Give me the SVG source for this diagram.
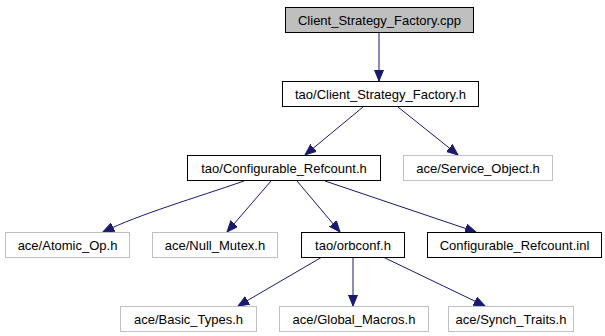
<svg xmlns="http://www.w3.org/2000/svg" width="605" height="336" viewBox="0 0 605 336">
<style>
.n rect{fill:#fff;stroke:#000;stroke-width:1}
.g rect{fill:#fff;stroke:#bfbfbf;stroke-width:1}
.r rect{fill:#bfbfbf;stroke:#000;stroke-width:1}
text{font-family:"Liberation Sans",Arial,sans-serif;font-size:13px;fill:#000;text-anchor:middle}
.e path{fill:none;stroke:#191970;stroke-width:1}
</style>
<defs>
<marker id="a" markerWidth="12" markerHeight="10" refX="11" refY="5" orient="auto" markerUnits="userSpaceOnUse">
<path d="M0,0.5 L11,5 L0,9.5 z" fill="#191970" stroke="#191970" stroke-width="1"/>
</marker>
</defs>
<rect width="605" height="336" fill="#fff"/>
<g class="e">
<path d="M379,32 L379,81" marker-end="url(#a)"/>
<path d="M363,107 L305,155" marker-end="url(#a)"/>
<path d="M398,107 L458,155" marker-end="url(#a)"/>
<path d="M244,181 C195,198 140,214 103,232" marker-end="url(#a)"/>
<path d="M271,181 L227,232" marker-end="url(#a)"/>
<path d="M297,181 L340,232" marker-end="url(#a)"/>
<path d="M325,181 L476,232" marker-end="url(#a)"/>
<path d="M322,257 L238,306" marker-end="url(#a)"/>
<path d="M353,257 L353,306" marker-end="url(#a)"/>
<path d="M383,257 L485,306" marker-end="url(#a)"/>
</g>
<g id="node1" class="r"><rect x="285.5" y="7.5" width="188" height="25"/><text x="379.5" y="25">Client_Strategy_Factory.cpp</text></g>
<g id="node2" class="n"><rect x="282.5" y="81.5" width="196" height="25"/><text x="380.5" y="99">tao/Client_Strategy_Factory.h</text></g>
<g id="node3" class="n"><rect x="187.5" y="155.5" width="193" height="25"/><text x="284" y="173">tao/Configurable_Refcount.h</text></g>
<g id="node4" class="g"><rect x="403.5" y="155.5" width="149" height="25"/><text x="478" y="173">ace/Service_Object.h</text></g>
<g id="node5" class="g"><rect x="5.5" y="232.5" width="124" height="25"/><text x="67.5" y="250">ace/Atomic_Op.h</text></g>
<g id="node6" class="g"><rect x="152.5" y="232.5" width="125" height="25"/><text x="215" y="250">ace/Null_Mutex.h</text></g>
<g id="node7" class="n"><rect x="301.5" y="232.5" width="103" height="25"/><text x="353" y="250">tao/orbconf.h</text></g>
<g id="node8" class="n"><rect x="427.5" y="232.5" width="174" height="25"/><text x="514.5" y="250">Configurable_Refcount.inl</text></g>
<g id="node9" class="g"><rect x="120.5" y="306.5" width="136" height="25"/><text x="188.5" y="324">ace/Basic_Types.h</text></g>
<g id="node10" class="g"><rect x="279.5" y="306.5" width="149" height="25"/><text x="354" y="324">ace/Global_Macros.h</text></g>
<g id="node11" class="g"><rect x="448.5" y="306.5" width="125" height="25"/><text x="511" y="324">ace/Synch_Traits.h</text></g>
</svg>
